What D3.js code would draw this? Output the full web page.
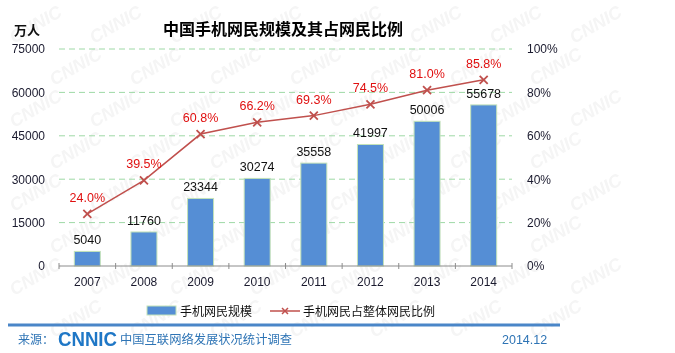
<!DOCTYPE html>
<html>
<head>
<meta charset="utf-8">
<script src="https://cdn.jsdelivr.net/npm/d3@7/dist/d3.min.js"></script>
<style>
  body { margin: 0; background: #fff; }
  svg { font-family: "Liberation Sans", Arial, sans-serif; }
  .tick text { font-size: 12px; fill: #1a1a2e; }
</style>
</head>
<body>
<svg id="chart" width="675" height="353"></svg>
<script>
var years = ["2007", "2008", "2009", "2010", "2011", "2012", "2013", "2014"];
var users = [5040, 11760, 23344, 30274, 35558, 41997, 50006, 55678];
var shares = [24.0, 39.5, 60.8, 66.2, 69.3, 74.5, 81.0, 85.8];
var leftTicks = [0, 15000, 30000, 45000, 60000, 75000];
var rightTicks = [0, 20, 40, 60, 80, 100];

var svg = d3.select("#chart"),
    margin = {top: 49, right: 163, bottom: 87, left: 59},
    width = +svg.attr("width") - margin.left - margin.right,
    height = +svg.attr("height") - margin.top - margin.bottom;

// faint watermark, kept inside the frame
var wm = svg.append("g").attr("opacity", 0.06);
for (var r = 0; r < 8; r++) {
  for (var c = 0; c < 9; c++) {
    var wx = c * 80 + (r % 2) * 40 + 14,
        wy = r * 42 + 44;
    if (wx + 62 > 668 || wy + 6 > 350) continue;
    wm.append("text")
      .attr("transform", "translate(" + wx + "," + wy + ") rotate(-30)")
      .style("font-size", "18px")
      .style("font-weight", "bold")
      .style("font-style", "italic")
      .attr("fill", "#555")
      .text("CNNIC");
  }
}

var g = svg.append("g").attr("transform", "translate(" + margin.left + "," + margin.top + ")");

var x = d3.scaleBand().domain(years).range([0, width]);
var y = d3.scaleLinear().domain([0, 75000]).range([height, 0]);
var y2 = d3.scaleLinear().domain([0, 100]).range([height, 0]);

// gridlines
g.selectAll(".grid")
  .data(leftTicks.filter(function (d) { return d > 0; }))
  .enter().append("line")
    .attr("x1", 0).attr("x2", width)
    .attr("y1", function (d) { return y(d); })
    .attr("y2", function (d) { return y(d); })
    .attr("stroke", "#9ed9a6")
    .attr("stroke-dasharray", "6,4");

// left axis labels
g.append("g")
    .call(d3.axisLeft(y).tickValues(leftTicks).tickSize(0).tickPadding(14).tickFormat(d3.format("d")))
    .call(function (a) { a.select(".domain").remove(); });

// right axis labels
g.append("g")
    .attr("transform", "translate(" + width + ",0)")
    .call(d3.axisRight(y2).tickValues(rightTicks).tickSize(0).tickPadding(15).tickFormat(function (d) { return d + "%"; }))
    .call(function (a) { a.select(".domain").remove(); });

// bars
var barW = 26;
g.selectAll(".bar")
  .data(users)
  .enter().append("rect")
    .attr("class", "bar")
    .attr("x", function (d, i) { return x(years[i]) + x.bandwidth() / 2 - barW / 2; })
    .attr("y", function (d) { return y(d); })
    .attr("width", barW)
    .attr("height", function (d) { return height - y(d); })
    .attr("fill", "#558ed5")
    .attr("stroke", "#c4e3b8")
    .attr("stroke-width", 1);

g.selectAll(".barlabel")
  .data(users)
  .enter().append("text")
    .attr("x", function (d, i) { return x(years[i]) + x.bandwidth() / 2; })
    .attr("y", function (d) { return y(d) - 7; })
    .attr("text-anchor", "middle")
    .style("font-size", "12.5px")
    .attr("fill", "#111")
    .text(function (d) { return d; });

// x axis
var xa = g.append("g")
    .attr("transform", "translate(0," + height + ")");
xa.append("line").attr("x1", 0).attr("x2", width).attr("stroke", "#8c8c8c");
xa.selectAll(".xt")
  .data(d3.range(years.length + 1))
  .enter().append("line")
    .attr("x1", function (i) { return i * x.step(); })
    .attr("x2", function (i) { return i * x.step(); })
    .attr("y1", -3).attr("y2", 3)
    .attr("stroke", "#8c8c8c");
xa.selectAll(".xl")
  .data(years)
  .enter().append("text")
    .attr("x", function (d) { return x(d) + x.bandwidth() / 2; })
    .attr("y", 20)
    .attr("text-anchor", "middle")
    .style("font-size", "12px")
    .attr("fill", "#1a1a2e")
    .text(function (d) { return d; });

// line
var cx = function (d, i) { return x(years[i]) + x.bandwidth() / 2; };
g.append("path")
    .datum(shares)
    .attr("fill", "none")
    .attr("stroke", "#c0504d")
    .attr("stroke-width", 1.5)
    .attr("d", d3.line().x(cx).y(function (d) { return y2(d); }));

g.selectAll(".mark")
  .data(shares)
  .enter().append("path")
    .attr("transform", function (d, i) { return "translate(" + cx(d, i) + "," + y2(d) + ")"; })
    .attr("d", "M-4,-4L4,4M-4,4L4,-4")
    .attr("stroke", "#c0504d")
    .attr("stroke-width", 1.8);

g.selectAll(".pctlabel")
  .data(shares)
  .enter().append("text")
    .attr("x", cx)
    .attr("y", function (d) { return y2(d) - 12; })
    .attr("text-anchor", "middle")
    .style("font-size", "12.5px")
    .attr("fill", "#e01010")
    .text(function (d) { return d.toFixed(1) + "%"; });

// title and unit
svg.append("text")
    .attr("x", 283).attr("y", 35)
    .attr("text-anchor", "middle")
    .style("font-size", "16px")
    .style("font-weight", "bold")
    .style("font-family", "'Noto Sans CJK SC', sans-serif")
    .attr("fill", "#000")
    .text("中国手机网民规模及其占网民比例");

svg.append("text")
    .attr("x", 14).attr("y", 35)
    .style("font-size", "13px")
    .style("font-weight", "bold")
    .style("font-family", "'Noto Sans CJK SC', sans-serif")
    .attr("fill", "#111")
    .text("万人");

// legend
var lg = svg.append("g").attr("transform", "translate(0,311)");
lg.append("rect").attr("x", 147).attr("y", -5).attr("width", 29).attr("height", 9)
    .attr("fill", "#558ed5").attr("stroke", "#c4e3b8");
lg.append("text").attr("x", 180).attr("y", 5)
    .style("font-size", "12px")
    .style("font-family", "'Noto Sans CJK SC', sans-serif")
    .attr("fill", "#111")
    .text("手机网民规模");
lg.append("line").attr("x1", 270).attr("x2", 300).attr("y1", 0).attr("y2", 0)
    .attr("stroke", "#c0504d").attr("stroke-width", 1.5);
lg.append("path").attr("transform", "translate(285,0)")
    .attr("d", "M-3,-3L3,3M-3,3L3,-3")
    .attr("stroke", "#c0504d").attr("stroke-width", 1.5);
lg.append("text").attr("x", 303).attr("y", 5)
    .style("font-size", "12px")
    .style("font-family", "'Noto Sans CJK SC', sans-serif")
    .attr("fill", "#111")
    .text("手机网民占整体网民比例");

// footer
svg.append("line")
    .attr("x1", 8).attr("x2", 560).attr("y1", 325).attr("y2", 325)
    .attr("stroke", "#4a86c8").attr("stroke-width", 3);

var ft = svg.append("g").attr("fill", "#2e74b5")
    .style("font-family", "'Noto Sans CJK SC', sans-serif");
ft.append("text").attr("x", 18).attr("y", 344).style("font-size", "12px").text("来源：");
ft.append("text").attr("x", 58).attr("y", 346)
    .style("font-size", "21px").style("font-weight", "bold")
    .style("font-family", "'Liberation Sans', Arial, sans-serif")
    .attr("fill", "#1f77c6")
    .attr("textLength", 59).attr("lengthAdjust", "spacingAndGlyphs")
    .text("CNNIC");
ft.append("text").attr("x", 120).attr("y", 344).style("font-size", "12px")
    .attr("textLength", 172).attr("lengthAdjust", "spacingAndGlyphs")
    .text("中国互联网络发展状况统计调查");
ft.append("text").attr("x", 502).attr("y", 344).style("font-size", "12.5px")
    .style("font-family", "'Liberation Sans', Arial, sans-serif")
    .text("2014.12");
</script>
</body>
</html>
